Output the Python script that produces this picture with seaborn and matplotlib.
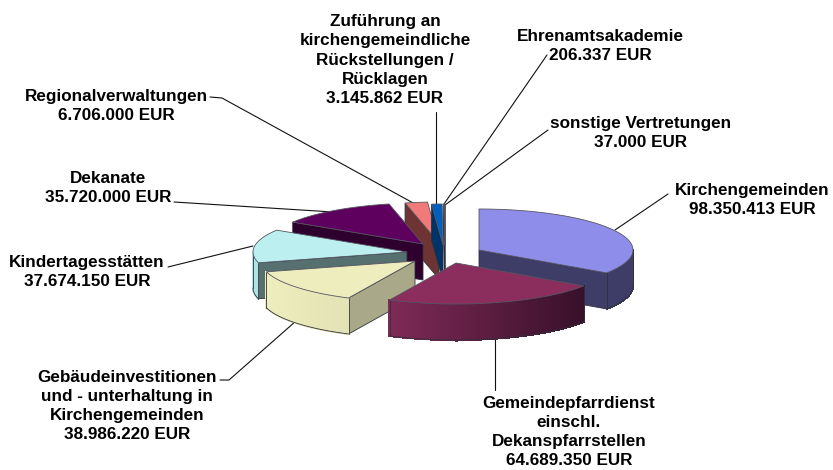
import numpy as np
import matplotlib
matplotlib.use("Agg")
import matplotlib.pyplot as plt
import seaborn as sns
from matplotlib.colors import to_rgb

sns.set_theme(style="white")
plt.rcParams['font.family'] = ['Liberation Sans', 'DejaVu Sans']

# ---- data ----
categories = ["Kirchengemeinden", "Gemeindepfarrdienst", "Gebäudeinvestitionen", "Kindertagesstätten",
              "Dekanate", "Regionalverwaltungen", "Zuführung", "Ehrenamtsakademie", "sonstige Vertretungen"]
values = [98350413, 64689350, 38986220, 37674150, 35720000, 6706000, 3145862, 206337, 37000]
labels = ["Kirchengemeinden\n98.350.413 EUR",
          "Gemeindepfarrdienst\neinschl.\nDekanspfarrstellen\n64.689.350 EUR",
          "Gebäudeinvestitionen\nund - unterhaltung in\nKirchengemeinden\n38.986.220 EUR",
          "Kindertagesstätten\n37.674.150 EUR",
          "Dekanate\n35.720.000 EUR",
          "Regionalverwaltungen\n6.706.000 EUR",
          "Zuführung an\nkirchengemeindliche\nRückstellungen /\nRücklagen\n3.145.862 EUR",
          "Ehrenamtsakademie\n206.337 EUR",
          "sonstige Vertretungen\n37.000 EUR"]

# ---- layout / style ----
RX, RY, DEPTH = 154, 41, 36
apex_x = [479, 456, 415, 407, 423, 439, 443, 444.5, 445]
apex_y = [250, 263, 261, 252, 244, 243, 245, 245, 245]
top_col = ["#8E8EEA", "#8B2E5E", "#EDEDBE", "#BCEFEF", "#5E005E", "#F07A7A", "#0060C0", "#A8A8A8", "#A8A8A8"]
wall_col = ["#3D3D67", "#3D3D67", "#A9A98A", "#566F6F", "#2E002E", "#6E3434", "#003468", "#707070", "#707070"]
rim_from = ["#3D3D67", "#38102A", "#E2E2B4", "#B0E4E4", "#2E002E", "#6E3434", "#003468", "#707070", "#707070"]
rim_to = ["#3D3D67", "#7E2A56", "#EDEDBE", "#B0E4E4", "#2E002E", "#6E3434", "#003468", "#707070", "#707070"]
draw_order = [5, 6, 7, 8, 4, 3, 2, 0, 1]
EDGE = "#30303A"
text_x = [752, 569, 127, 87, 108, 116, 385, 600, 641]
text_y = [200, 432, 406, 272, 188, 106, 60, 46, 133]
leaders = [[(668, 194), (615, 230)], [(495, 390), (495, 337)], [(220, 380), (229, 380), (296, 321)],
           [(168, 267), (253, 246)], [(174, 202), (333, 212)], [(210, 97), (222, 98), (415, 204)],
           [(436, 112), (436, 204)], [(547, 55), (444, 204)], [(548, 130), (445, 205)]]

fig = plt.figure(figsize=(8.33, 4.70), dpi=100)
ax = fig.add_axes([0, 0, 1, 1])
ax.set_xlim(0, 833)
ax.set_ylim(470, 0)
ax.axis("off")

share = np.array(values, dtype=float) / np.sum(values) * 360
ends = np.cumsum(share)
starts = ends - share


def rim(a, cx, cy):
    r = np.radians(a)
    return cx + RX * np.sin(r), cy - RY * np.cos(r)


for z, i in enumerate(draw_order):
    cx, cy = apex_x[i], apex_y[i]
    a0, a1 = starts[i], ends[i]
    zb = 2 + z
    # radial walls facing the viewer
    faces = []
    if 180 <= a0 <= 360:
        faces.append(a0)
    if 0 < a1 < 180:
        faces.append(a1)
    for a in faces:
        x, y = rim(a, cx, cy)
        ax.fill([cx, x, x, cx], [cy, y, y + DEPTH, cy + DEPTH], facecolor=wall_col[i],
                edgecolor=EDGE, lw=0.6, zorder=zb)
    # outer wall with horizontal shading
    lo, hi = max(a0, 90), min(a1, 270)
    if hi > lo:
        steps = np.linspace(lo, hi, max(int(hi - lo) * 2, 2))
        xs, ys = rim(steps, cx, cy)
        c0, c1 = np.array(to_rgb(rim_from[i])), np.array(to_rgb(rim_to[i]))
        xmin, xmax = xs.min(), xs.max()
        for k in range(len(steps) - 1):
            t = ((xs[k] + xs[k + 1]) / 2 - xmin) / max(xmax - xmin, 1)
            col = c1 + (c0 - c1) * t
            ax.fill([xs[k], xs[k + 1], xs[k + 1], xs[k]],
                    [ys[k], ys[k + 1], ys[k + 1] + DEPTH, ys[k] + DEPTH],
                    facecolor=col, edgecolor=col, lw=0.8, antialiased=False, zorder=zb)
        ax.plot(xs, ys + DEPTH, color=EDGE, lw=0.6, zorder=zb)
        ax.plot([xs[0], xs[0]], [ys[0], ys[0] + DEPTH], color=EDGE, lw=0.6, zorder=zb)
        ax.plot([xs[-1], xs[-1]], [ys[-1], ys[-1] + DEPTH], color=EDGE, lw=0.6, zorder=zb)
    # top face
    arc = np.linspace(a0, a1, max(int(a1 - a0) * 2, 2))
    xs, ys = rim(arc, cx, cy)
    ax.fill(np.r_[cx, xs], np.r_[cy, ys], facecolor=top_col[i], edgecolor="#555560", lw=0.6, zorder=zb)

for seg in leaders:
    ax.plot(*zip(*seg), color="#111111", lw=0.8, zorder=1)

for lab, x, y in zip(labels, text_x, text_y):
    ax.text(x, y, lab, ha="center", va="center", fontsize=12.3, fontweight="bold",
            color="black", linespacing=1.36, zorder=30)

fig.savefig("out.png", dpi=100, facecolor="white")
